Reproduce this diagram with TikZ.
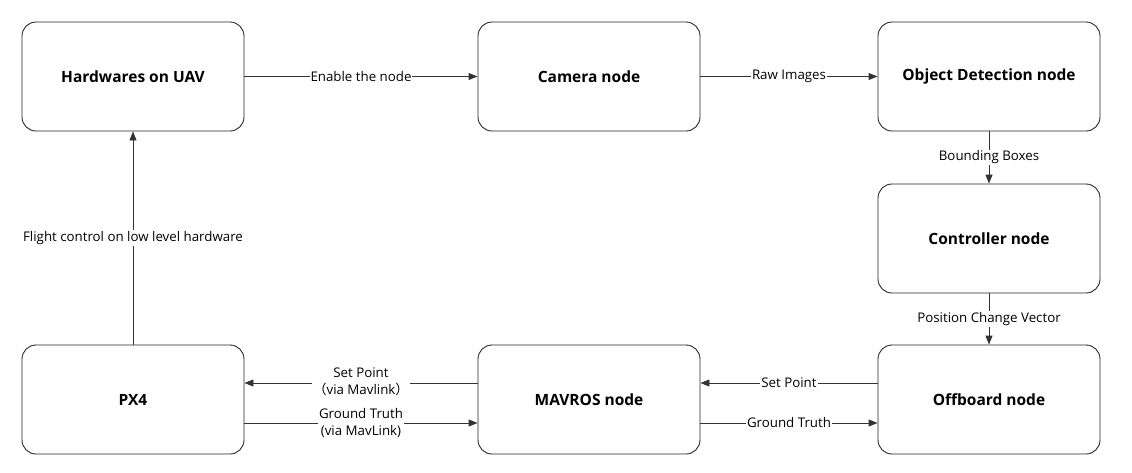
\documentclass[tikz,border=0pt]{standalone}
\usepackage{fontspec}
\setmainfont{Open Sans}
\newfontfamily\cjk{Noto Sans CJK SC}
\usetikzlibrary{arrows.meta}
\begin{document}
\begin{tikzpicture}[x=1pt,y=-1pt,
  box/.style={draw=black!85, line width=0.9pt, rounded corners=14pt, minimum width=222pt, minimum height=109pt, inner sep=0pt, font=\fontsize{15.5}{18}\selectfont\bfseries},
  conn/.style={draw=black!80, line width=0.9pt, -{Triangle[length=9pt,width=7pt]}},
  lab/.style={fill=white, inner sep=1pt, font=\fontsize{13.3}{17}\selectfont, align=center}
]
\useasboundingbox (0,0) rectangle (1132,472);
\node[box] (hw) at (133,76.5) {Hardwares on UAV};
\node[box] (cam) at (589,76.5) {Camera node};
\node[box] (od) at (989,76.5) {Object Detection node};
\node[box] (ctrl) at (989,238.5) {Controller node};
\node[box] (px4) at (133,399.5) {PX4};
\node[box] (mav) at (589,399.5) {MAVROS node};
\node[box] (off) at (989,399.5) {Offboard node};

\draw[conn] (hw.east) -- node[lab] {Enable the node} (cam.west);
\draw[conn] (cam.east) -- node[lab] {Raw Images} (od.west);
\draw[conn] (od.south) -- node[lab] {Bounding Boxes} (ctrl.north);
\draw[conn] (ctrl.south) -- node[lab] {Position Change Vector} (off.north);
\draw[conn] (px4.north) -- node[lab] {Flight control on low level hardware} (hw.south);

\draw[conn] (mav.west |- 0,383) -- node[lab, yshift=1pt] {Set Point\\{\cjk （}via Mavlink{\cjk ）}} (px4.east |- 0,383);
\draw[conn] (px4.east |- 0,423) -- node[lab] {Ground Truth\\(via MavLink)} (mav.west |- 0,423);
\draw[conn] (off.west |- 0,383) -- node[lab] {Set Point} (mav.east |- 0,383);
\draw[conn] (mav.east |- 0,423) -- node[lab] {Ground Truth} (off.west |- 0,423);
\end{tikzpicture}
\end{document}
